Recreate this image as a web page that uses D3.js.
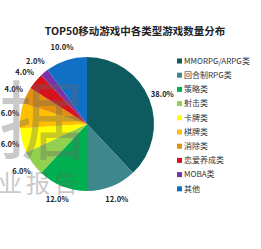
<!DOCTYPE html>
<html>
<head>
<meta charset="utf-8">
<script src="https://cdn.jsdelivr.net/npm/d3@7"></script>
<style>
  body { margin: 0; background: #fff; }
  text { font-family: "Noto Sans CJK SC", "Noto Sans", sans-serif; }
</style>
</head>
<body>
<div id="chart"></div>
<script>
// data
var categories = ["MMORPG/ARPG类", "回合制RPG类", "策略类", "射击类", "卡牌类", "棋牌类", "消除类", "恋爱养成类", "MOBA类", "其他"];
var shares = [38, 12, 12, 6, 6, 6, 4, 4, 2, 10];
var colors = ["#0e5b5f", "#3e878c", "#00b050", "#92d050", "#ffff00", "#ffc000", "#e3900f", "#d7121b", "#7a32a8", "#0f70c6"];

var width = 261, height = 249;
var cx = 87, cy = 124, radius = 67;

var svg = d3.select("#chart").append("svg")
    .attr("width", width)
    .attr("height", height);

// title
svg.append("text")
    .attr("x", 135)
    .attr("y", 35)
    .attr("text-anchor", "middle")
    .attr("font-size", 10.5)
    .attr("font-weight", "bold")
    .attr("fill", "#222")
    .text("TOP50移动游戏中各类型游戏数量分布");

var pie = d3.pie().sort(null).value(function(d) { return d; });
var arcs = pie(shares);
var arc = d3.arc().innerRadius(0).outerRadius(radius);
var labelArc = d3.arc().innerRadius(81).outerRadius(81);

var g = svg.append("g").attr("transform", "translate(" + cx + "," + cy + ")");

g.selectAll("path")
    .data(arcs)
    .enter()
    .append("path")
    .attr("d", arc)
    .attr("fill", function(d, i) { return colors[i]; });

// labels outside; keep them inside the left edge
g.selectAll("text.lbl")
    .data(arcs)
    .enter()
    .append("text")
    .attr("class", "lbl")
    .attr("transform", function(d) {
        var c = labelArc.centroid(d);
        var x = Math.max(c[0], 10 - cx);
        return "translate(" + x + "," + c[1] + ")";
    })
    .attr("dy", "0.35em")
    .attr("text-anchor", "middle")
    .attr("font-size", 7.5)
    .attr("font-weight", "bold")
    .attr("fill", "#222")
    .text(function(d) { return d.value.toFixed(1) + "%"; });

// legend
var legend = svg.append("g").attr("transform", "translate(177,61)");
var item = legend.selectAll("g")
    .data(categories)
    .enter()
    .append("g")
    .attr("transform", function(d, i) { return "translate(0," + (i * 14.2) + ")"; });
item.append("rect")
    .attr("x", 0).attr("y", -2.5)
    .attr("width", 5).attr("height", 5)
    .attr("fill", function(d, i) { return colors[i]; });
item.append("text")
    .attr("x", 7)
    .attr("dy", "0.35em")
    .attr("font-size", 8)
    .attr("fill", "#333")
    .text(function(d) { return d; });

// watermark
var wm = svg.append("g").attr("fill", "#666").attr("opacity", 0.35);
wm.append("text")
    .attr("x", 42).attr("y", 153)
    .attr("text-anchor", "middle")
    .attr("font-size", 86)
    .text("据");
wm.append("text")
    .attr("x", 82).attr("y", 192)
    .attr("text-anchor", "end")
    .attr("font-size", 24)
    .attr("letter-spacing", 4)
    .text("业报告");
</script>
</body>
</html>
